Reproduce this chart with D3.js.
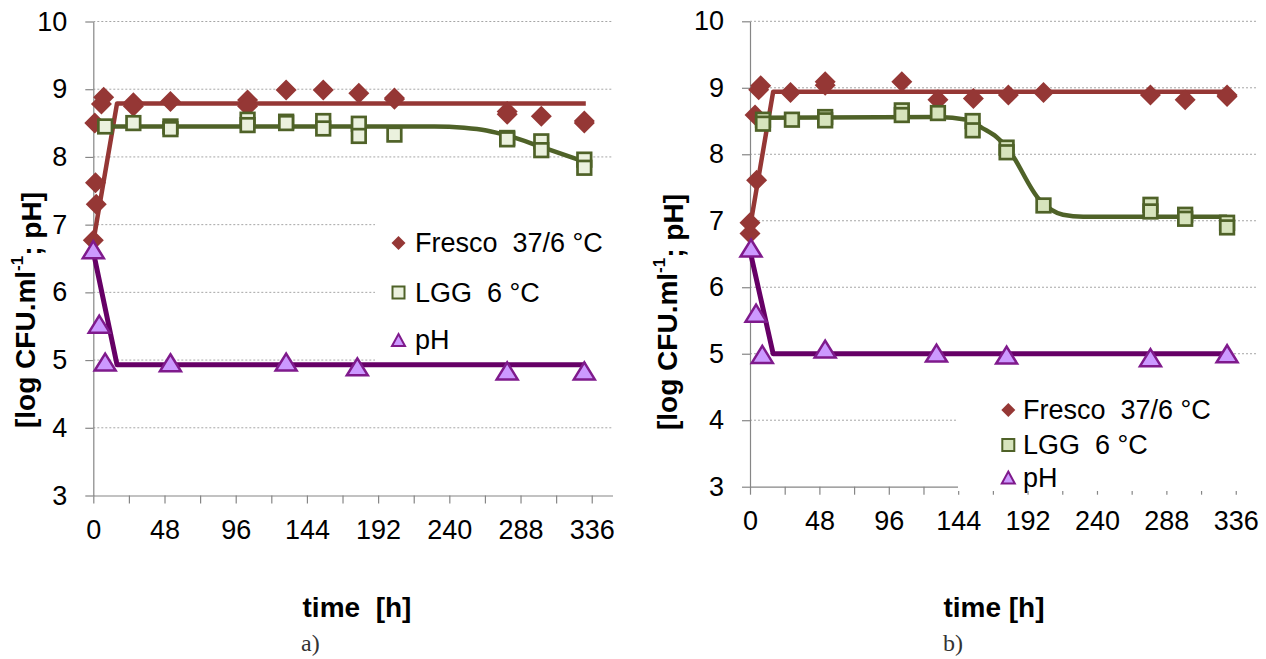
<!DOCTYPE html>
<html>
<head>
<meta charset="utf-8">
<script src="https://cdn.jsdelivr.net/npm/d3@7"></script>
<style>
  body { margin: 0; background: #fff; }
  svg { display: block; }
  text { font-family: "Liberation Sans", Arial, sans-serif; }
</style>
</head>
<body>
<svg id="chart" width="1266" height="659"></svg>
<script>
// ---------- DATA ----------
// x-axis ticks (hours), y-axis ticks
const xTicks = [0, 24, 48, 72, 96, 120, 144, 168, 192, 216, 240, 264, 288, 312, 336];
const xLabels = [0, 48, 96, 144, 192, 240, 288, 336];
const yTicks = [3, 4, 5, 6, 7, 8, 9, 10];
const legendNames = ["Fresco  37/6 °C", "LGG  6 °C", "pH"];

// Panel a) measured points [time h, value]
const aFresco = [[0,6.77],[2,7.30],[1.5,7.62],[1,8.50],[5.5,8.78],[7,8.88],[27,8.80],[27,8.75],
  [52,8.82],[104,8.84],[104,8.75],[130,8.99],[155,8.99],[179,8.94],[203,8.87],[203,8.85],
  [279,8.67],[279,8.63],[302,8.60],[331,8.53],[331,8.50]];
const aLGG = [[8,8.45],[27,8.50],[52,8.45],[52,8.41],[104,8.55],[104,8.47],[130,8.52],[130,8.50],
  [155,8.53],[155,8.42],[179,8.49],[179,8.31],[203,8.33],[279,8.28],[279,8.26],[302,8.23],[302,8.10],
  [331,7.96],[331,7.84]];
const aPH = [[0,6.63],[4,5.53],[8,4.97],[52,4.96],[130,4.97],[178,4.90],[279,4.84],[331,4.84]];
// Panel a) fitted curves
const aFrescoFit = [[0,6.75],[16,8.79],[332,8.79]];
const aLGGFit = [[4,8.45],[230,8.45],[250,8.43],[265,8.39],[280,8.31],[302,8.15],[331,7.93]];
const aPHFit = [[0,6.6],[16,4.93],[332,4.93]];

// Panel b) measured points
const bFresco = [[0,6.81],[0,6.97],[4.6,7.61],[3.5,8.59],[7.4,9.03],[6,8.97],[28,8.93],[52,9.09],
  [52,9.04],[105,9.09],[130,8.82],[154.5,8.84],[178.7,8.89],[203,8.93],[277,8.89],[301,8.82],
  [330,8.89],[330,8.87]];
const bLGG = [[9,8.52],[9,8.46],[29,8.52],[52,8.56],[52,8.51],[105,8.66],[105,8.59],[130,8.62],
  [154,8.50],[154,8.36],[177.5,8.10],[177.5,8.03],[203,7.23],[277,7.24],[277,7.14],[301,7.09],
  [301,7.03],[330,6.97],[330,6.90]];
const bPH = [[0.7,6.59],[4.2,5.61],[8.5,4.99],[52,5.07],[129,5.01],[177.5,4.98],[277,4.94],[330,5.0]];
// Panel b) fitted curves
const bFrescoFit = [[0,6.9],[16,8.94],[332,8.94]];
const bLGGFit = [[3,8.55],[130,8.56],[150,8.52],[161,8.39],[170.5,8.26],[177.5,8.11],[200.5,7.31],
  [216.5,7.09],[230.5,7.06],[330,7.06]];
const bPHFit = [[0,6.55],[16,5.0],[332,5.0]];

// ---------- STYLE ----------
const C = {
  fresco: "#953735", frescoLine: "#953735",
  lgg: "#4F6228",
  ph: "#660066", phFill: "#CC99FF", phStroke: "#7F1A8C",
  axis: "#868686", grid: "#A6A6A6"
};

const svg = d3.select("#chart");

function diamondPath(s) { const h = s / 2; return `M0,${-h}L${h},0L0,${h}L${-h},0Z`; }
function trianglePath(w, h) { return `M0,${-h/2}L${w/2},${h/2}L${-w/2},${h/2}Z`; }

function drawPanel(cfg) {
  const g = svg.append("g");
  const x = d3.scaleLinear().domain([0, 350]).range([cfg.x0, cfg.x1]);
  const y = d3.scaleLinear().domain([3, 10]).range([cfg.y0, cfg.y1]);

  // gridlines
  g.append("g").selectAll("line").data(yTicks.filter(d => d > 3)).join("line")
    .attr("x1", x(0)).attr("x2", x(350))
    .attr("y1", d => y(d)).attr("y2", d => y(d))
    .attr("stroke", C.grid).attr("stroke-width", 1).attr("stroke-dasharray", "2,2");

  // axes
  const yAxis = g.append("g").attr("transform", `translate(${x(0)},0)`)
    .call(d3.axisLeft(y).tickValues(yTicks).tickFormat(d3.format("d"))
      .tickSize(8).tickSizeOuter(0).tickPadding(18));
  const xAxis = g.append("g").attr("transform", `translate(0,${y(3)})`)
    .call(d3.axisBottom(x).tickValues(xTicks).tickSize(8).tickSizeOuter(0).tickPadding(16)
      .tickFormat(d => xLabels.includes(d) ? d : ""));
  [yAxis, xAxis].forEach(a => {
    a.select(".domain").attr("stroke", C.axis).attr("stroke-width", 1.2);
    a.selectAll(".tick line").attr("stroke", C.axis).attr("stroke-width", 1.2);
    a.selectAll(".tick text").attr("fill", "#000").style("font-size", "27px")
      .style("font-family", '"Liberation Sans", Arial, sans-serif');
  });

  // fitted lines
  const lineLin = d3.line().x(d => x(d[0])).y(d => y(d[1]));
  const lineSmooth = d3.line().x(d => x(d[0])).y(d => y(d[1])).curve(d3.curveMonotoneX);
  g.append("path").datum(cfg.frescoFit).attr("d", lineLin).attr("fill", "none")
    .attr("stroke", C.frescoLine).attr("stroke-width", 4.5).attr("stroke-linejoin", "round");
  g.append("path").datum(cfg.lggFit).attr("d", lineSmooth).attr("fill", "none")
    .attr("stroke", C.lgg).attr("stroke-width", 4.5).attr("stroke-linejoin", "round");
  g.append("path").datum(cfg.phFit).attr("d", lineLin).attr("fill", "none")
    .attr("stroke", C.ph).attr("stroke-width", 5).attr("stroke-linejoin", "round");

  // legend background (covers plot area part)
  const L = cfg.legend;
  g.append("rect").attr("x", L.x).attr("y", L.y).attr("width", L.w).attr("height", L.h).attr("fill", "#fff");

  // markers
  g.append("g").selectAll("path").data(cfg.fresco).join("path")
    .attr("transform", d => `translate(${x(d[0])},${y(d[1])})`)
    .attr("d", diamondPath(21)).attr("fill", C.fresco);
  g.append("g").selectAll("rect").data(cfg.lgg).join("rect")
    .attr("x", d => x(d[0]) - 6.8).attr("y", d => y(d[1]) - 6.8)
    .attr("width", 13.6).attr("height", 13.6)
    .attr("fill", cfg.lggFill).attr("stroke", C.lgg).attr("stroke-width", 2.7);
  g.append("g").selectAll("path").data(cfg.ph).join("path")
    .attr("transform", d => `translate(${x(d[0])},${y(d[1])})`)
    .attr("d", trianglePath(21, 17)).attr("fill", C.phFill)
    .attr("stroke", C.phStroke).attr("stroke-width", 2.5).attr("stroke-linejoin", "miter");

  // legend content
  legendNames.forEach((name, i) => {
    const cy = L.rows[i];
    const gi = g.append("g").attr("transform", `translate(${L.mx},${cy})`);
    if (i === 0) gi.append("path").attr("d", diamondPath(14)).attr("fill", C.fresco);
    if (i === 1) gi.append("rect").attr("x", -6).attr("y", -6).attr("width", 12).attr("height", 12)
      .attr("fill", cfg.lggFill).attr("stroke", C.lgg).attr("stroke-width", 2);
    if (i === 2) gi.append("path").attr("d", trianglePath(13, 12)).attr("fill", C.phFill)
      .attr("stroke", C.phStroke).attr("stroke-width", 2);
    g.append("text").attr("x", L.tx).attr("y", cy).attr("dominant-baseline", "central")
      .style("font-size", "27px").style("white-space", "pre").attr("fill", "#000").text(name);
  });

  // y axis title
  const yt = g.append("text").attr("transform", `translate(${cfg.ytX},${cfg.ytY}) rotate(-90)`)
    .attr("text-anchor", "middle").attr("dominant-baseline", "central")
    .style("font-size", "28px").style("font-weight", "bold").attr("fill", "#000");
  yt.append("tspan").text("[log CFU.ml");
  yt.append("tspan").attr("dy", "-0.5em").style("font-size", "17px").text("-1");
  yt.append("tspan").attr("dy", "0.5em").text("; pH]");

  // x axis title
  g.append("text").attr("x", cfg.xtX).attr("y", 617).attr("text-anchor", "middle")
    .style("font-size", "28px").style("font-weight", "bold").style("white-space", "pre")
    .attr("fill", "#000").text(cfg.xTitle);

  // caption
  g.append("text").attr("x", cfg.capX).attr("y", 651)
    .style("font-family", '"Liberation Serif", "DejaVu Serif", serif').style("font-size", "24px")
    .attr("fill", "#333").text(cfg.caption);
}

drawPanel({
  x0: 93.3, x1: 612.5, y0: 495.5, y1: 21.5,
  fresco: aFresco, lgg: aLGG, ph: aPH,
  frescoFit: aFrescoFit, lggFit: aLGGFit, phFit: aPHFit,
  lggFill: "#EBF1DE",
  legend: { x: 375, y: 212, w: 238, h: 150, mx: 398.5, tx: 415, rows: [243, 292.5, 340] },
  ytX: 25, ytY: 310, xtX: 357, xTitle: "time  [h]", capX: 301, caption: "a)"
});
drawPanel({
  x0: 750, x1: 1256, y0: 486.7, y1: 21.3,
  fresco: bFresco, lgg: bLGG, ph: bPH,
  frescoFit: bFrescoFit, lggFit: bLGGFit, phFit: bPHFit,
  lggFill: "#D7E4BD",
  legend: { x: 958, y: 394, w: 300, h: 97, mx: 1008.3, tx: 1023, rows: [410, 445, 477.5] },
  ytX: 667, ytY: 312, xtX: 994, xTitle: "time [h]", capX: 943, caption: "b)"
});
</script>
</body>
</html>
